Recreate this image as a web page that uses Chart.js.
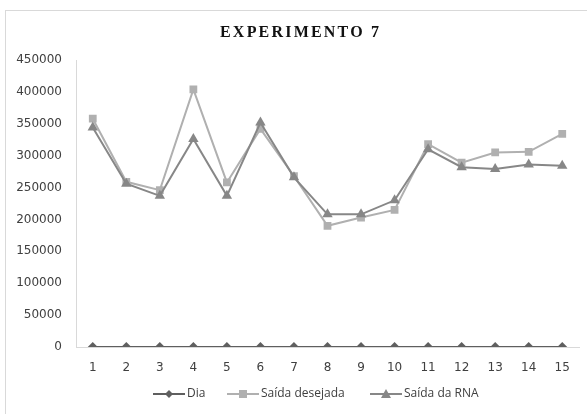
<!DOCTYPE html>
<html>
<head>
<meta charset="utf-8">
<script src="https://cdn.jsdelivr.net/npm/chart.js@4"></script>
<style>
html,body{margin:0;padding:0;background:#fff;}
canvas{display:block;}
</style>
</head>
<body>
<canvas id="c" width="587" height="414"></canvas>
<script>
const categories = ['1','2','3','4','5','6','7','8','9','10','11','12','13','14','15'];
const dia = [1,2,3,4,5,6,7,8,9,10,11,12,13,14,15];
const saidaDesejada = [358000,259000,246000,404000,258000,342000,268000,190000,203000,215000,318000,289000,305000,306000,334000];
const saidaRNA = [344000,256000,237000,326000,237000,352000,266000,208000,208000,230000,310000,282000,279000,286000,284000];
const yTicks = [0,50000,100000,150000,200000,250000,300000,350000,400000,450000];
const seriesNames = ['Dia','Saída desejada','Saída da RNA'];
const chartTitle = 'EXPERIMENTO 7';

const colDia = '#5f5f5f', colDes = '#b0b0b0', colRNA = '#878787';
const styles = ['rectRot', 'rect', 'triangle'];
const colors = [colDia, colDes, colRNA];
const legendX = [153, 227, 370];

function drawMarker(ctx, style, cx, cy, r) {
  ctx.beginPath();
  if (style === 'rectRot') {
    ctx.moveTo(cx, cy - r); ctx.lineTo(cx + r, cy); ctx.lineTo(cx, cy + r); ctx.lineTo(cx - r, cy); ctx.closePath();
  } else if (style === 'rect') {
    ctx.rect(cx - r, cy - r, 2*r, 2*r);
  } else {
    ctx.moveTo(cx, cy - r); ctx.lineTo(cx + r, cy + r*0.8); ctx.lineTo(cx - r, cy + r*0.8); ctx.closePath();
  }
  ctx.fill();
}

const decor = {
  id: 'decor',
  beforeDraw(chart) {
    const ctx = chart.ctx;
    ctx.save();
    ctx.fillStyle = '#fff';
    ctx.fillRect(0, 0, chart.width, chart.height);
    ctx.strokeStyle = '#d9d9d9';
    ctx.lineWidth = 1;
    ctx.strokeRect(5.5, 10.5, 700, 500);
    ctx.restore();
  },
  afterDraw(chart) {
    const ctx = chart.ctx;
    ctx.save();
    // title
    ctx.font = 'bold 16px "Liberation Serif", serif';
    ctx.fillStyle = '#111';
    ctx.textBaseline = 'middle';
    ctx.textAlign = 'left';
    const w0 = ctx.measureText(chartTitle).width;
    const target = 159;
    const sp = Math.max(0, (target - w0) / (chartTitle.length - 1));
    ctx.letterSpacing = sp + 'px';
    ctx.fillText(chartTitle, 299.5 - target / 2, 33);
    ctx.letterSpacing = '0px';
    // legend
    ctx.font = '12px "Open Sans", sans-serif';
    const y = 394;
    seriesNames.forEach((n, i) => {
      const x = legendX[i];
      ctx.strokeStyle = colors[i]; ctx.fillStyle = colors[i]; ctx.lineWidth = 2;
      ctx.beginPath(); ctx.moveTo(x, y); ctx.lineTo(x + 32, y); ctx.stroke();
      drawMarker(ctx, styles[i], x + 16, y, i === 2 ? 5 : 4);
      ctx.fillStyle = '#404040';
      ctx.fillText(n, x + 34, y);
    });
    ctx.restore();
  }
};

new Chart(document.getElementById('c'), {
  type: 'line',
  data: {
    labels: categories,
    datasets: [
      { label: seriesNames[0], data: dia, borderColor: colDia, backgroundColor: colDia, borderWidth: 2,
        pointStyle: 'rectRot', pointRadius: 5, pointBorderWidth: 0, order: 2 },
      { label: seriesNames[1], data: saidaDesejada, borderColor: colDes, backgroundColor: colDes, borderWidth: 2,
        pointStyle: 'rect', pointRadius: 5.5, pointBorderWidth: 0, order: 1 },
      { label: seriesNames[2], data: saidaRNA, borderColor: colRNA, backgroundColor: colRNA, borderWidth: 2,
        pointStyle: 'triangle', pointRadius: 6, pointBorderWidth: 0, order: 0 }
    ]
  },
  options: {
    responsive: false,
    animation: false,
    layout: { padding: { top: 60, right: 8, left: 0, bottom: 41 } },
    plugins: {
      title: { display: false },
      legend: { display: false },
      tooltip: { enabled: false }
    },
    scales: {
      x: {
        offset: true,
        grid: { display: false, drawTicks: false },
        border: { color: '#d9d9d9', width: 1 },
        ticks: { color: '#404040', font: { family: '"DejaVu Sans", sans-serif', size: 12 }, padding: 14, maxRotation: 0 },
        afterFit(s) { s.height = 26; }
      },
      y: {
        min: 0, max: 450000,
        afterBuildTicks(s) { s.ticks = yTicks.map(v => ({ value: v })); },
        grid: { display: false, drawTicks: false },
        border: { color: '#d9d9d9', width: 1 },
        ticks: { color: '#404040', font: { family: '"DejaVu Sans", sans-serif', size: 12 }, padding: 14,
          callback: (v) => String(v) },
        afterFit(s) { s.width = 76; }
      }
    }
  },
  plugins: [decor]
});
</script>
</body>
</html>
